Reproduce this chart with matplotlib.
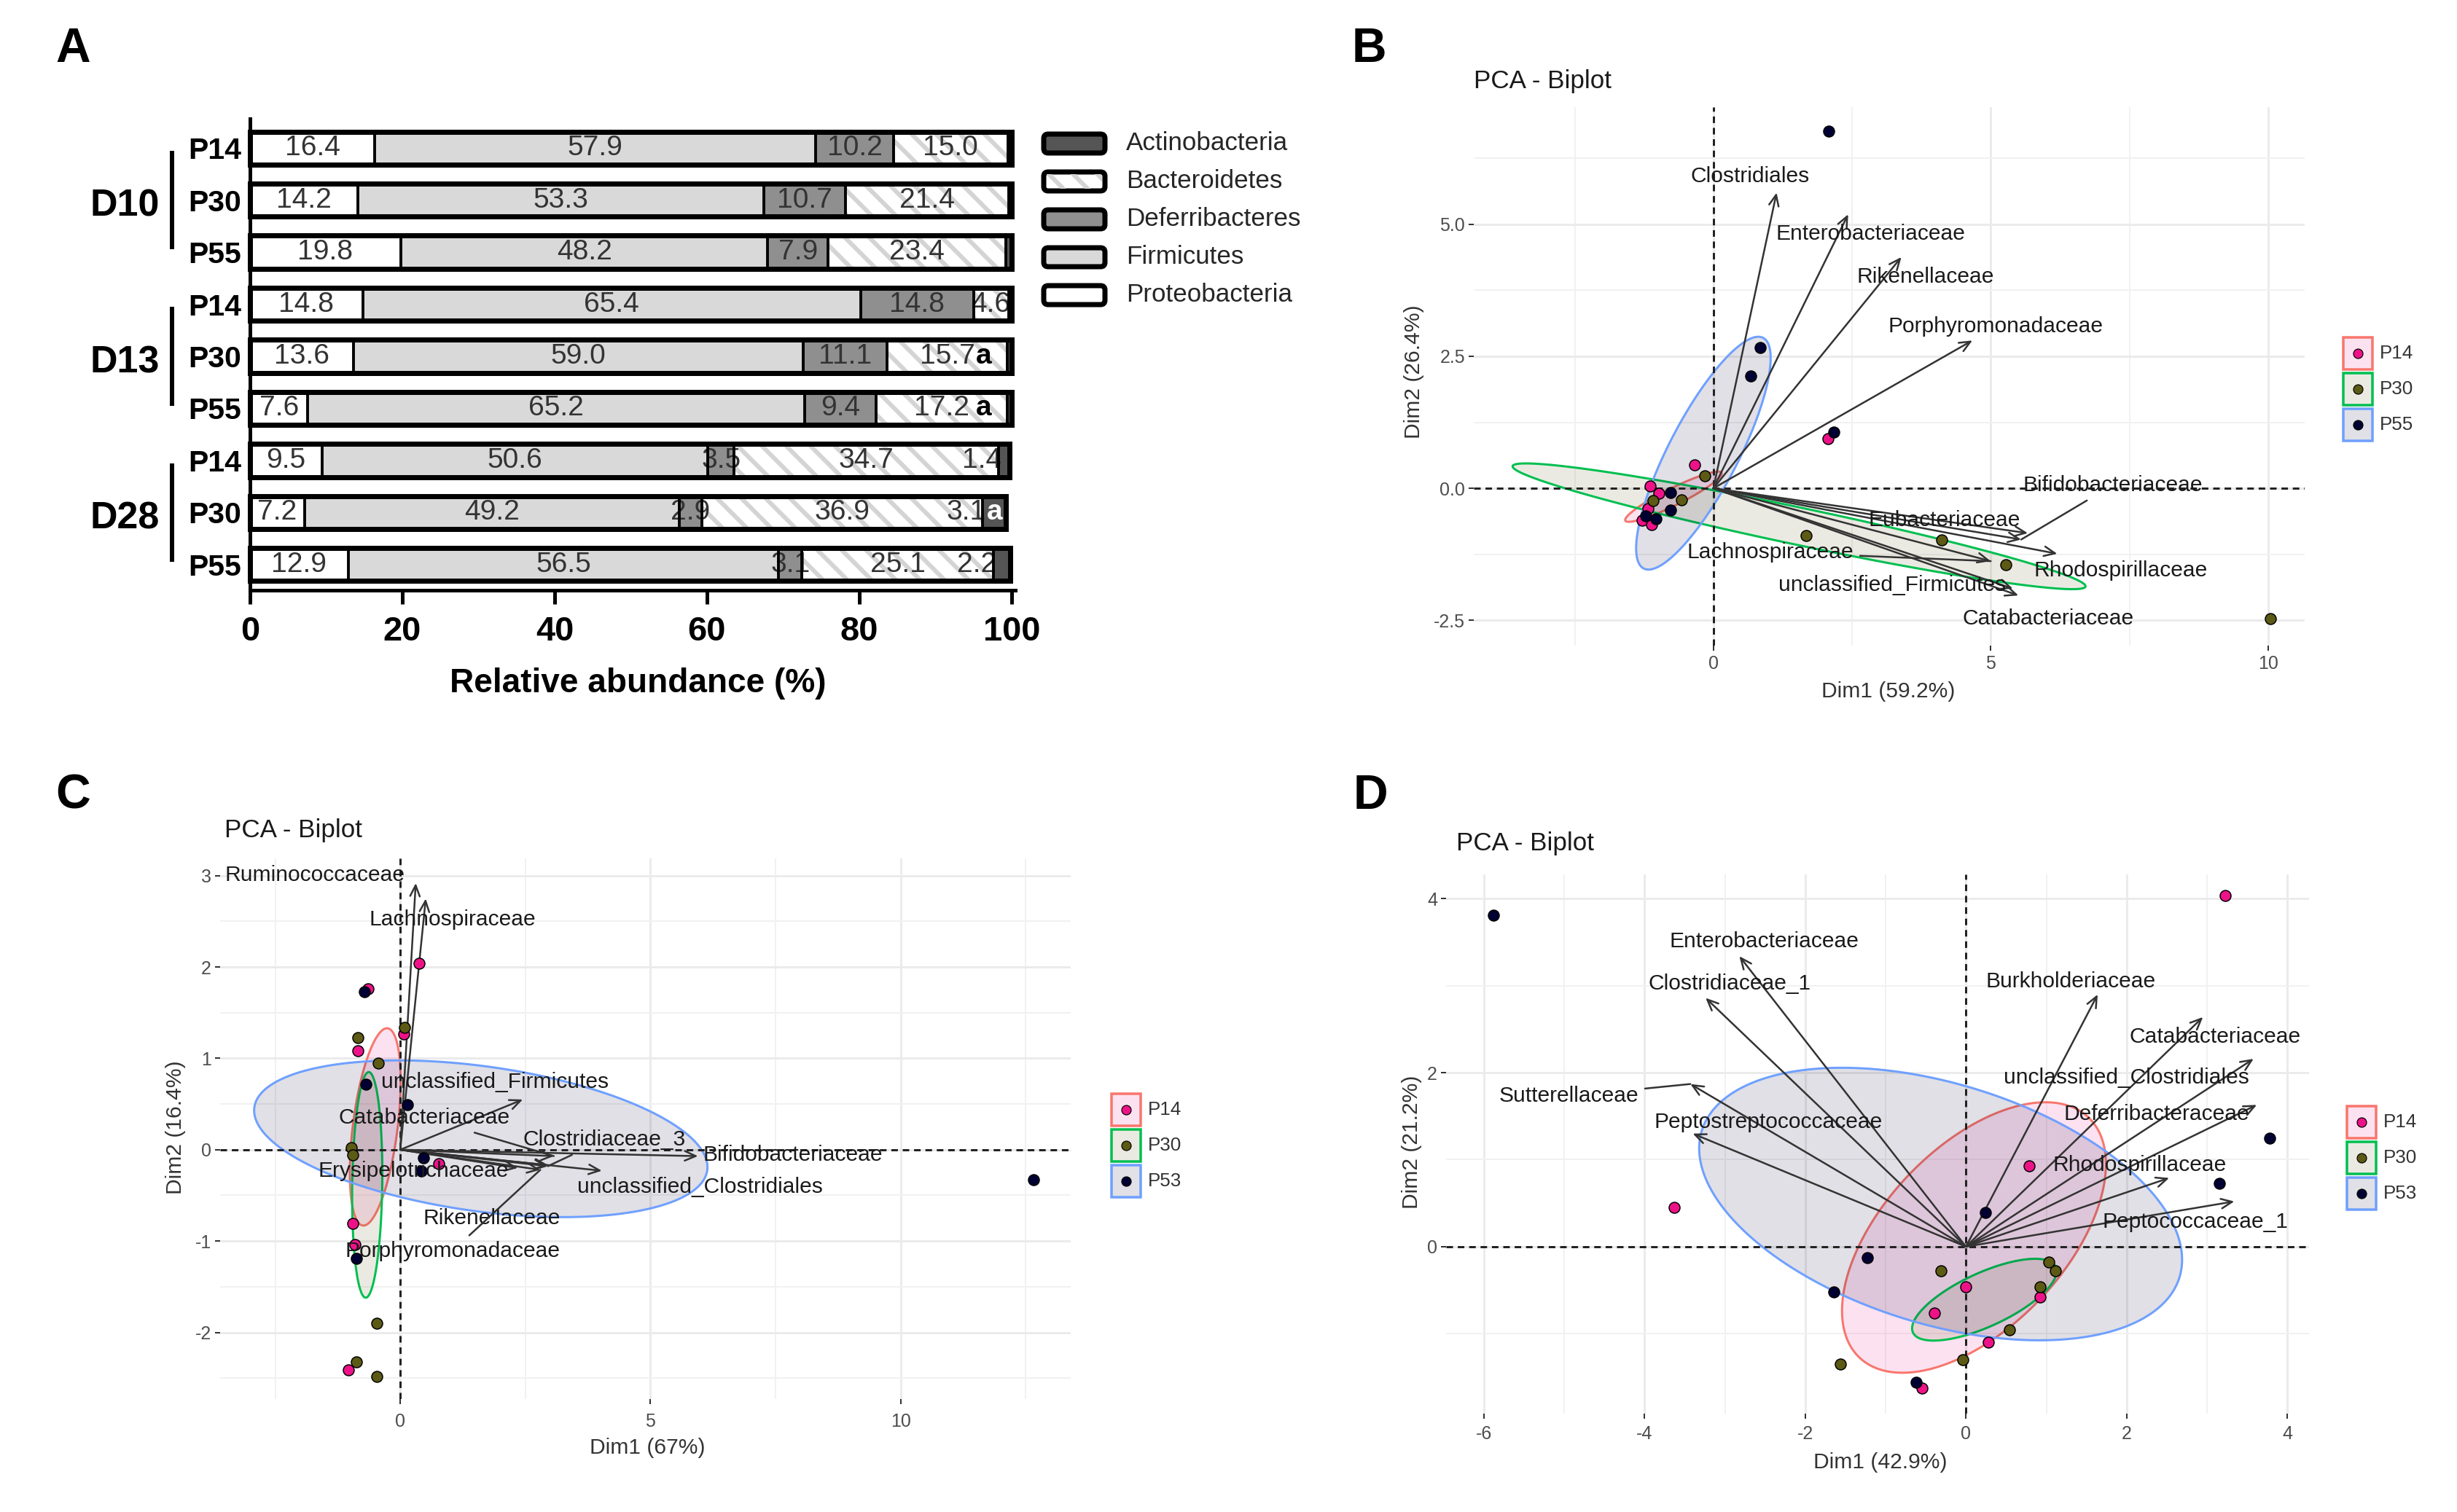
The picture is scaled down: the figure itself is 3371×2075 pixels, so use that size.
import numpy as np
import matplotlib
matplotlib.use('Agg')
import matplotlib.pyplot as plt
import matplotlib.colors as mcolors
from matplotlib.patches import FancyBboxPatch, Rectangle
from matplotlib.transforms import blended_transform_factory

# ======================= DATA =======================
# ---- Panel A: relative abundance (%) ----
bar_rows = ['P14', 'P30', 'P55', 'P14', 'P30', 'P55', 'P14', 'P30', 'P55']
day_groups = ['D10', 'D13', 'D28']
phyla = ['Actinobacteria', 'Bacteroidetes', 'Deferribacteres', 'Firmicutes', 'Proteobacteria']
proteobacteria = [16.4, 14.2, 19.8, 14.8, 13.6, 7.6, 9.5, 7.2, 12.9]
firmicutes = [57.9, 53.3, 48.2, 65.4, 59.0, 65.2, 50.6, 49.2, 56.5]
deferribacteres = [10.2, 10.7, 7.9, 14.8, 11.1, 9.4, 3.5, 2.9, 3.1]
bacteroidetes = [15.0, 21.4, 23.4, 4.6, 15.7, 17.2, 34.7, 36.9, 25.1]
actinobacteria = [0.5, 0.4, 0.7, 0.4, 0.6, 0.6, 1.4, 3.1, 2.2]
actino_labelled = [False, False, False, False, False, False, True, True, True]
sig_rows_bact = [4, 5]
sig_rows_actino = [7]
xticks_A = [0, 20, 40, 60, 80, 100]

# ---- Panel B: PCA D10 ----
B_P14_x = [2.06, -0.34, -1.14, -0.98, -1.18, -1.29, -1.11]
B_P14_y = [0.94, 0.44, 0.04, -0.09, -0.39, -0.60, -0.69]
B_P30_x = [-0.15, -1.09, -0.57, 1.67, 4.11, 5.27, 10.04]
B_P30_y = [0.23, -0.24, -0.22, -0.89, -0.98, -1.45, -2.47]
B_P55_x = [2.08, 0.84, 0.67, 2.17, -0.77, -0.77, -1.22, -1.04]
B_P55_y = [6.77, 2.67, 2.13, 1.07, -0.08, -0.41, -0.52, -0.58]
B_groups = ['P14', 'P30', 'P55']
B_ellipses = [(-0.72, -0.16, 0.87, 0.44, 0.0, 0.18),
              (1.545, -0.72, 5.165, -1.135, 0.0, 0.36),
              (-0.18, 0.665, 0.99, 2.205, 0.70, 0.0)]
B_vars = ['Clostridiales', 'Enterobacteriaceae', 'Rikenellaceae', 'Porphyromonadaceae',
          'Bifidobacteriaceae', 'Eubacteriaceae', 'Rhodospirillaceae', 'Lachnospiraceae',
          'unclassified_Firmicutes', 'Catabacteriaceae']
B_tip_x = [1.14, 2.43, 3.39, 4.67, 5.55, 5.67, 6.20, 5.00, 5.50, 5.40]
B_tip_y = [5.60, 5.19, 4.38, 2.80, -0.97, -0.85, -1.24, -1.38, -2.03, -1.90]
B_lab_x = [0.66, 2.83, 3.82, 5.09, 7.20, 4.16, 7.34, 1.03, 3.22, 6.03]
B_lab_y = [5.91, 4.82, 4.01, 3.06, 0.06, -0.60, -1.56, -1.21, -1.83, -2.47]
B_connect = [False, False, False, False, True, False, False, True, False, False]

# ---- Panel C: PCA D13 ----
C_P14_x = [0.37, -0.64, -0.84, 0.07, 0.77, -0.95, -0.90, -1.03]
C_P14_y = [2.04, 1.76, 1.08, 1.27, -0.15, -0.81, -1.04, -2.41]
C_P30_x = [-0.84, 0.08, -0.44, -0.98, -0.95, -0.47, -0.87, -0.47]
C_P30_y = [1.23, 1.34, 0.95, 0.02, -0.06, -1.90, -2.32, -2.48]
C_P53_x = [-0.72, -0.69, 0.14, 0.46, 0.42, 12.66, -0.88]
C_P53_y = [1.73, 0.72, 0.49, -0.09, -0.23, -0.33, -1.19]
C_groups = ['P14', 'P30', 'P53']
C_ellipses = [(-0.50, 0.25, 0.235, 1.08, 0.45, 0.0),
              (-0.66, -0.385, 0.03, 1.235, 0.30, 0.0),
              (1.61, 0.12, 4.53, -0.31, 0.0, 0.80)]
C_vars = ['Ruminococcaceae', 'Lachnospiraceae', 'unclassified_Firmicutes', 'Catabacteriaceae',
          'Clostridiaceae_3', 'Bifidobacteriaceae', 'unclassified_Clostridiales',
          'Erysipelotrichaceae', 'Rikenellaceae', 'Porphyromonadaceae']
C_tip_x = [0.31, 0.51, 2.45, 3.07, 2.95, 5.95, 4.03, 2.35, 2.96, 2.80]
C_tip_y = [2.92, 2.75, 0.55, -0.07, -0.18, -0.07, -0.23, -0.20, -0.17, -0.22]
C_lab_x = [-1.71, 1.04, 1.89, 0.48, 4.08, 7.85, 5.99, 0.26, 1.83, 1.04]
C_lab_y = [3.01, 2.52, 0.74, 0.35, 0.11, -0.06, -0.41, -0.23, -0.75, -1.11]
C_connect = [False, False, False, True, True, False, False, False, False, True]

# ---- Panel D: PCA D28 ----
D_P14_x = [3.23, -3.63, 0.79, 0.00, 0.92, -0.39, 0.28, -0.55]
D_P14_y = [4.04, 0.45, 0.93, -0.46, -0.58, -0.76, -1.10, -1.63]
D_P30_x = [-0.31, 1.03, 1.11, 0.92, 0.54, -0.04, -1.56]
D_P30_y = [-0.28, -0.18, -0.28, -0.46, -0.96, -1.30, -1.35]
D_P53_x = [-5.88, 3.78, 3.15, 0.24, -1.23, -1.64, -0.62]
D_P53_y = [3.81, 1.25, 0.73, 0.39, -0.13, -0.52, -1.56]
D_groups = ['P14', 'P30', 'P53']
D_ellipses = [(0.10, 0.105, 0.89, 1.555, 1.38, 0.0),
              (0.23, -0.61, 0.90, 0.33, 0.0, 0.335),
              (-0.315, 0.49, 3.005, -0.64, 0.0, 1.43)]
D_vars = ['Enterobacteriaceae', 'Clostridiaceae_1', 'Sutterellaceae', 'Peptostreptococcaceae',
          'Burkholderiaceae', 'Catabacteriaceae', 'unclassified_Clostridiales',
          'Deferribacteraceae', 'Rhodospirillaceae', 'Peptococcaceae_1']
D_tip_x = [-2.82, -3.24, -3.43, -3.40, 1.64, 2.95, 3.58, 3.62, 2.53, 3.34]
D_tip_y = [3.34, 2.86, 1.87, 1.30, 2.90, 2.64, 2.16, 1.63, 0.79, 0.52]
D_lab_x = [-2.51, -2.94, -4.94, -2.46, 1.30, 3.10, 2.00, 2.37, 2.16, 2.85]
D_lab_y = [3.51, 3.02, 1.73, 1.43, 3.05, 2.41, 1.94, 1.52, 0.94, 0.28]
D_connect = [False, False, True, False, False, False, False, False, False, False]

# ======================= STYLE / LAYOUT =======================
W, H = 3371, 2075
DPI = 200


def P(px):
    return px * 72.0 / DPI


plt.rcParams['font.family'] = ['Liberation Sans', 'DejaVu Sans']
plt.rcParams['axes.unicode_minus'] = False
plt.rcParams['hatch.linewidth'] = P(6)
NARROW = ['Liberation Sans Narrow', 'Liberation Sans', 'DejaVu Sans']
HATCH = '\\\\'
HATCH_COL = '#d4d4d4'

POINT_COLS = ['#ee1289', '#5c5a14', '#000033']
LINE_COLS = ['#f8766d', '#00bf50', '#6fa0ff']

fig = plt.figure(figsize=(W / DPI, H / DPI), dpi=DPI)
fig.patch.set_facecolor('white')


def add_ax(left, top, right, bottom):
    return fig.add_axes([left / W, 1 - bottom / H, (right - left) / W, (bottom - top) / H])


# ======================= PANEL A =======================
axA = add_ax(343, 163, 1393, 810)
ypos = np.arange(len(bar_rows))
segments = [proteobacteria, firmicutes, deferribacteres, bacteroidetes, actinobacteria]
seg_colors = ['white', '#d9d9d9', '#8f8f8f', 'white', '#555555']
seg_hatch = [None, None, None, HATCH, None]
BH = 0.63
left = np.zeros(len(ypos))
lefts = []
for vals, fc, hz in zip(segments, seg_colors, seg_hatch):
    vals = np.asarray(vals, dtype=float)
    axA.barh(ypos, vals, left=left, height=BH, color=fc, lw=0, zorder=1)
    if hz:
        axA.barh(ypos, vals, left=left, height=BH, facecolor='none', edgecolor=HATCH_COL,
                 hatch=hz, lw=0, zorder=1.1)
    axA.barh(ypos, vals, left=left, height=BH, fill=False, edgecolor='black',
             lw=P(3.5), zorder=3, clip_on=False)
    lefts.append(left.copy())
    left = left + vals
axA.barh(ypos, left, height=BH, fill=False, edgecolor='black', lw=P(7), zorder=4, clip_on=False)

lab_kw = dict(family=NARROW, fontsize=P(39), color='#333333', zorder=2, ha='center', va='center')
for k in range(4):
    vals = segments[k]
    for i in range(len(ypos)):
        axA.text(lefts[k][i] + vals[i] / 2, ypos[i], f'{vals[i]:.1f}', **lab_kw)
for i in range(len(ypos)):
    if actino_labelled[i]:
        kw = dict(lab_kw)
        kw['ha'] = 'right'
        axA.text(lefts[4][i] + 0.4, ypos[i], f'{actinobacteria[i]:.1f}', **kw)
for i in sig_rows_bact:
    kw = dict(lab_kw)
    kw.update(fontweight='bold', color='black', zorder=5)
    axA.text(96.4, ypos[i], 'a', **kw)
for i in sig_rows_actino:
    kw = dict(lab_kw)
    kw.update(fontweight='bold', color='white', zorder=5)
    axA.text(lefts[4][i] + actinobacteria[i] / 2, ypos[i], 'a', **kw)

axA.set_xlim(0, 100.5)
axA.set_ylim(8.49, -0.56)
axA.set_yticks(ypos)
axA.set_yticklabels(bar_rows, family=NARROW, fontweight='bold', fontsize=P(41))
axA.tick_params(axis='y', length=0, pad=P(12))
axA.set_xticks(xticks_A)
axA.set_xticklabels([str(v) for v in xticks_A], family=NARROW, fontweight='bold', fontsize=P(47))
axA.tick_params(axis='x', length=P(19), width=P(5), pad=P(16))
for s in ['top', 'right']:
    axA.spines[s].set_visible(False)
for s in ['left', 'bottom']:
    axA.spines[s].set_linewidth(P(5))

transA = blended_transform_factory(axA.transAxes, axA.transData)
for g, name in enumerate(day_groups):
    axA.text(-0.164, 3 * g + 1.12, name, transform=transA, family=NARROW, fontweight='bold',
             fontsize=P(52), ha='center', va='center')
    axA.plot([-0.102, -0.102], [3 * g + 0.05, 3 * g + 1.95], transform=transA, color='black',
             lw=P(6), clip_on=False, solid_capstyle='butt')


# ======================= PCA PANELS =======================
def pca_panel(box, xlim, ylim, xt, xm, yt, ym, yfmt, pts, ells, vars_, tx, ty, lx, ly, conn, xpad):
    ax = add_ax(*box)
    ax.set_xlim(xlim)
    ax.set_ylim(ylim)
    for s in ax.spines.values():
        s.set_visible(False)
    ax.set_xticks(xt)
    ax.set_xticks(xm, minor=True)
    ax.set_yticks(yt)
    ax.set_yticks(ym, minor=True)
    ax.set_xticklabels([f'{v:g}' for v in xt])
    ax.set_yticklabels([yfmt.format(v) for v in yt])
    ax.set_axisbelow(True)
    ax.grid(which='major', color='#ebebeb', lw=P(3))
    ax.grid(which='minor', color='#f1f1f1', lw=P(2))
    ax.tick_params(which='major', length=P(7), width=P(2), color='#333333',
                   labelsize=P(25), labelcolor='#4d4d4d')
    ax.tick_params(axis='x', which='major', pad=P(xpad))
    ax.tick_params(axis='y', which='major', pad=P(5))
    ax.tick_params(which='minor', length=0)
    ax.axhline(0, color='#222222', lw=P(3), ls=(0, (3, 2.2)), zorder=1.5)
    ax.axvline(0, color='#222222', lw=P(3), ls=(0, (3, 2.2)), zorder=1.5)
    t = np.linspace(0, 2 * np.pi, 300)
    for (cx, cy, axx, ayy, bxx, byy), pc, lc in zip(ells, POINT_COLS, LINE_COLS):
        ex = cx + axx * np.cos(t) + bxx * np.sin(t)
        ey = cy + ayy * np.cos(t) + byy * np.sin(t)
        ax.fill(ex, ey, facecolor=mcolors.to_rgba(pc, 0.12), edgecolor=lc, lw=P(3), zorder=1)
    for (gx, gy), pc in zip(pts, POINT_COLS):
        ax.scatter(gx, gy, s=P(15) ** 2, color=pc, edgecolor='black', linewidths=P(1.5),
                   zorder=5, clip_on=False)
    for name, a, b, c, d, cn in zip(vars_, tx, ty, lx, ly, conn):
        ax.annotate('', xy=(a, b), xytext=(0, 0),
                    arrowprops=dict(arrowstyle='->,head_length=0.5,head_width=0.22',
                                    color='#333333', lw=P(2.5), shrinkA=0, shrinkB=0,
                                    mutation_scale=P(30)), zorder=4)
        if cn:
            ax.annotate(name, xy=(a, b), xytext=(c, d), ha='center', va='center',
                        fontsize=P(30), color='#1a1a1a', zorder=6,
                        arrowprops=dict(arrowstyle='-', color='#333333', lw=P(2.5),
                                        shrinkA=P(3), shrinkB=0))
        else:
            ax.text(c, d, name, ha='center', va='center', fontsize=P(30), color='#1a1a1a',
                    zorder=6)
    return ax


pca_panel((2022, 147, 3162, 886), (-4.32, 10.66), (-2.98, 7.22), [0, 5, 10], [-2.5, 2.5, 7.5],
          [-2.5, 0, 2.5, 5.0], [-1.25, 1.25, 3.75, 6.25], '{:.1f}',
          [(B_P14_x, B_P14_y), (B_P30_x, B_P30_y), (B_P55_x, B_P55_y)], B_ellipses,
          B_vars, B_tip_x, B_tip_y, B_lab_x, B_lab_y, B_connect, 6)
pca_panel((302, 1178, 1469, 1920), (-3.6, 13.4), (-2.73, 3.19), [0, 5, 10], [-2.5, 2.5, 7.5, 12.5],
          [-2, -1, 0, 1, 2, 3], [-2.5, -1.5, -0.5, 0.5, 1.5, 2.5], '{:g}',
          [(C_P14_x, C_P14_y), (C_P30_x, C_P30_y), (C_P53_x, C_P53_y)], C_ellipses,
          C_vars, C_tip_x, C_tip_y, C_lab_x, C_lab_y, C_connect, 12)
pca_panel((1984, 1200, 3168, 1940), (-6.47, 4.27), (-1.92, 4.28), [-6, -4, -2, 0, 2, 4],
          [-5, -3, -1, 1, 3], [0, 2, 4], [-1, 1, 3], '{:g}',
          [(D_P14_x, D_P14_y), (D_P30_x, D_P30_y), (D_P53_x, D_P53_y)], D_ellipses,
          D_vars, D_tip_x, D_tip_y, D_lab_x, D_lab_y, D_connect, 9)

# ======================= OVERLAY (titles, legends, letters) =======================
ov = fig.add_axes([0, 0, 1, 1], zorder=10)
ov.set_xlim(0, W)
ov.set_ylim(H, 0)
ov.axis('off')
ov.patch.set_alpha(0)

# panel letters
for letter, (x, y) in zip('ABCD', [(100, 68), (1878, 68), (100, 1093), (1880, 1093)]):
    ov.text(x, y, letter, fontsize=P(66), fontweight='bold', ha='center', va='center')

# Panel A axis label
ov.text(875, 938, 'Relative abundance (%)', family=NARROW, fontweight='bold', fontsize=P(46),
        ha='center', va='center')

# Panel A legend
legend_fc = ['#555555', 'white', '#8f8f8f', '#d9d9d9', 'white']
for i, (name, fc) in enumerate(zip(phyla, legend_fc)):
    y = 197 + 52 * i
    ov.add_patch(FancyBboxPatch((1432, y - 13), 84, 26, boxstyle='round,pad=0,rounding_size=6',
                                facecolor=fc, edgecolor='black', lw=P(7)))
    if name == 'Bacteroidetes':
        ov.add_patch(Rectangle((1436, y - 10), 76, 20, facecolor='none', edgecolor=HATCH_COL,
                               hatch=HATCH, lw=0))
    ov.text(1545, y, name, fontsize=P(35), ha='left', va='center', color='#262626')

# PCA titles, axis labels, legends
titles = [(2022, 112), (308, 1139), (1998, 1158)]
for (x, y) in titles:
    ov.text(x, y, 'PCA - Biplot', fontsize=P(35), ha='left', va='center', color='#1a1a1a')

xlabels = [('Dim1 (59.2%)', 2591, 949), ('Dim1 (67%)', 888, 1987), ('Dim1 (42.9%)', 2580, 2007)]
for s, x, y in xlabels:
    ov.text(x, y, s, fontsize=P(30), ha='center', va='center', color='#333333')
ylabels = [('Dim2 (26.4%)', 1940, 510), ('Dim2 (16.4%)', 241, 1547), ('Dim2 (21.2%)', 1937, 1567)]
for s, x, y in ylabels:
    ov.text(x, y, s, fontsize=P(30), ha='center', va='center', color='#333333', rotation=90)

legends = [(B_groups, 3235, 485), (C_groups, 1545, 1523), (D_groups, 3240, 1540)]
for names, lx0, ly0 in legends:
    for i, (nm, pc, lc) in enumerate(zip(names, POINT_COLS, LINE_COLS)):
        y = ly0 + 49 * i
        ov.add_patch(Rectangle((lx0 - 20, y - 22), 40, 44, facecolor=mcolors.to_rgba(pc, 0.12),
                               edgecolor=lc, lw=P(3.5)))
        ov.scatter([lx0], [y], s=P(13) ** 2, color=pc, edgecolor='black', linewidths=P(1.2))
        ov.text(lx0 + 30, y, nm, fontsize=P(26), ha='left', va='center', color='#333333')

fig.savefig('out.png', dpi=DPI, facecolor='white')
